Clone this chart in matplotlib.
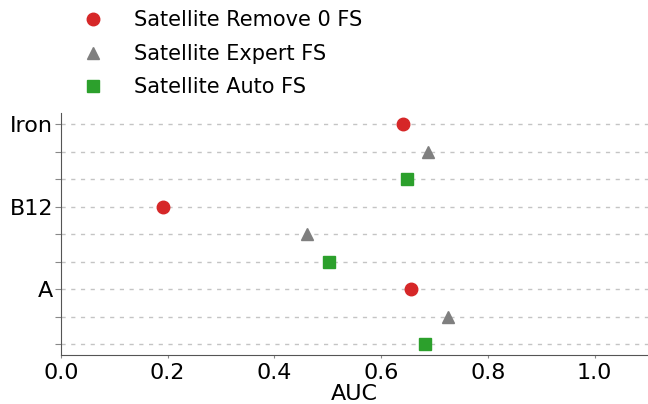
from matplotlib import pyplot as plt
import numpy as np

categories = ["Iron", "B12", "A"]
remove0_fs = [0.641, 0.191, 0.656]
expert_fs = [0.688, 0.461, 0.725]
auto_fs = [0.649, 0.503, 0.682]

fig = plt.figure(figsize=(6.48, 4.04), dpi=100)
ax = fig.add_axes([0.094, 0.121, 0.906, 0.599])

# each category has 3 rows, top row for the first series
n = len(categories)
base = np.array([3 * (n - 1 - i) + 2 for i in range(n)])
rows = np.arange(3 * n)

for y in rows:
    ax.axhline(y, color="#c4c4c4", linestyle=(0, (3, 4)), linewidth=1, zorder=0)

ax.plot(remove0_fs, base, "o", color="#d62728", markersize=9, linestyle="none",
        label="Satellite Remove 0 FS")
ax.plot(expert_fs, base - 1, "^", color="#7f7f7f", markersize=9, linestyle="none",
        label="Satellite Expert FS")
ax.plot(auto_fs, base - 2, "s", color="#2ca02c", markersize=9, linestyle="none",
        label="Satellite Auto FS")

ax.set_yticks(rows)
labels = [""] * len(rows)
for i, c in enumerate(categories):
    labels[base[i]] = c
ax.set_yticklabels(labels, fontsize=16)
ax.tick_params(axis="y", length=4, pad=1.5, color="#888888")
ax.tick_params(axis="x", labelsize=16, length=2, color="#888888")

ax.set_xlim(0, 1.1)
ax.set_ylim(-0.4, 3 * n - 1 + 0.4)
ax.set_xticks([0.0, 0.2, 0.4, 0.6, 0.8, 1.0])
ax.set_xlabel("AUC", fontsize=16, labelpad=1)

for s in ["top", "right"]:
    ax.spines[s].set_visible(False)
for s in ["left", "bottom"]:
    ax.spines[s].set_color("#555555")

fig.legend(loc="upper left", bbox_to_anchor=(0.095, 1.0), frameon=False,
           fontsize=15, handletextpad=1.0, labelspacing=0.65, borderaxespad=0.1)

fig.savefig("out.png", dpi=100)
